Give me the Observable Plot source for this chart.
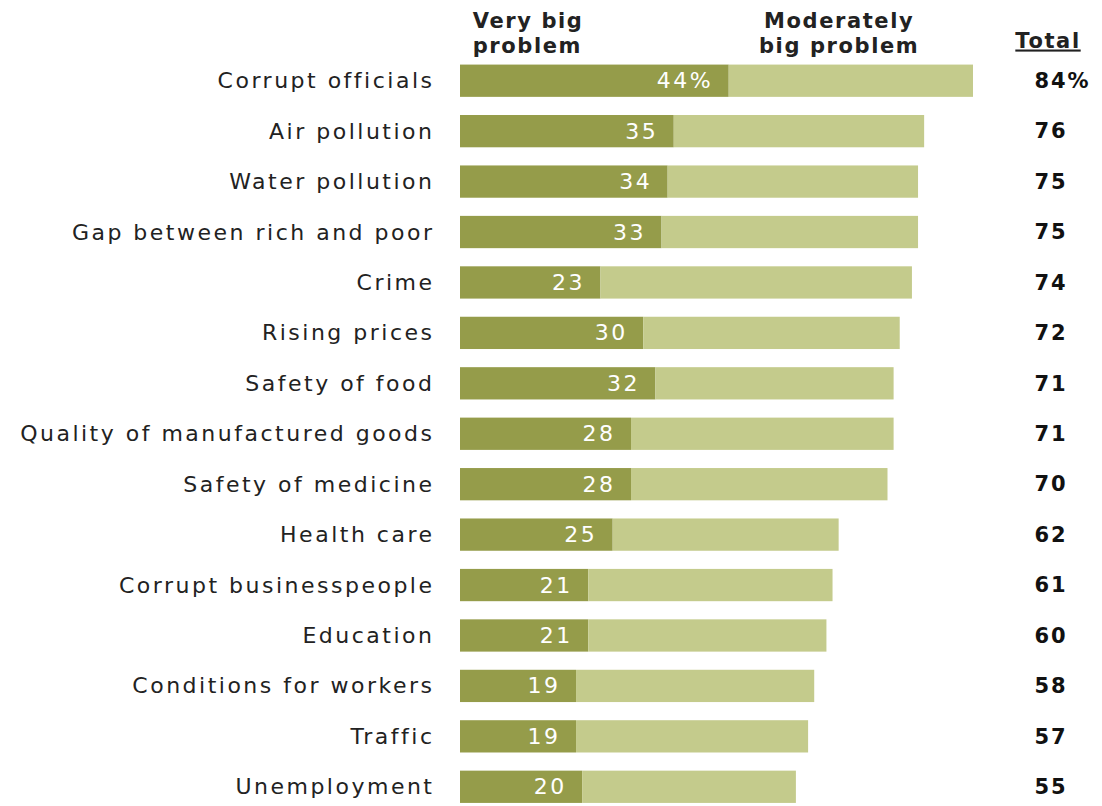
<!DOCTYPE html>
<html>
<head>
<meta charset="utf-8">
<script src="https://cdn.jsdelivr.net/npm/d3@7"></script>
<script src="https://cdn.jsdelivr.net/npm/@observablehq/plot@0.6"></script>
<style>
  html, body { margin: 0; padding: 0; background: #fff; }
  #chart svg { display: block; }
  #chart svg text { letter-spacing: 2.5px; }
  #chart svg .hdr text { letter-spacing: 1.6px; }
  #chart svg .tot text { letter-spacing: 1.8px; }
  #chart svg .total-head text { letter-spacing: 1.6px; text-decoration: underline; }
</style>
</head>
<body>
<div id="chart"></div>
<script>
const categories = [
  "Corrupt officials", "Air pollution", "Water pollution", "Gap between rich and poor",
  "Crime", "Rising prices", "Safety of food", "Quality of manufactured goods",
  "Safety of medicine", "Health care", "Corrupt businesspeople", "Education",
  "Conditions for workers", "Traffic", "Unemployment"
];
const veryBig = [44, 35, 34, 33, 23, 30, 32, 28, 28, 25, 21, 21, 19, 19, 20];
const total   = [84, 76, 75, 75, 74, 72, 71, 71, 70, 62, 61, 60, 58, 57, 55];

const rows = categories.map((c, i) => ({
  category: c,
  veryBig: veryBig[i],
  total: total[i],
  vLabel: i === 0 ? veryBig[i] + "%" : String(veryBig[i]),
  tLabel: i === 0 ? total[i] + "%" : String(total[i])
}));

const dark = "#959c4a";
const light = "#c4cb8c";
const font = "DejaVu Sans, Verdana, sans-serif";

const chart = Plot.plot({
  width: 1102,
  height: 806,
  marginLeft: 460,
  marginRight: 129,
  marginTop: 55,
  marginBottom: 0,
  style: { fontFamily: font, fontSize: "22px", color: "#222", background: "#fff" },
  x: { domain: [0, 84], axis: null },
  y: { domain: categories, range: [55.5, 812], round: false, paddingInner: 0.36, paddingOuter: 0.18, label: null },
  marks: [
    Plot.barX(rows, { y: "category", x1: 0, x2: "veryBig", fill: dark }),
    Plot.barX(rows, { y: "category", x1: "veryBig", x2: "total", fill: light }),
    Plot.text(rows, { y: "category", x: "veryBig", text: "vLabel", textAnchor: "end", dx: -16, fill: "#fff", fontSize: 22 }),
    Plot.text(rows, { y: "category", x: 94, text: "tLabel", textAnchor: "start", fill: "#111", fontWeight: "bold", fontSize: 21, className: "tot" }),
    Plot.axisY({ tickSize: 0, tickPadding: 26, fontSize: 22, label: null, fill: "#222" }),
    Plot.text(["Very big\nproblem"], { x: 2, frameAnchor: "top", textAnchor: "start", lineAnchor: "bottom", dy: -3, lineHeight: 1.15, fontWeight: "bold", fontSize: 21, fill: "#222", className: "hdr" }),
    Plot.text(["Moderately\nbig problem"], { x: 62, frameAnchor: "top", textAnchor: "middle", lineAnchor: "bottom", dy: -3, lineHeight: 1.15, fontWeight: "bold", fontSize: 21, fill: "#222", className: "hdr" }),
    Plot.text(["Total"], { x: 96.2, frameAnchor: "top", textAnchor: "middle", lineAnchor: "bottom", dy: -8, fontWeight: "bold", fontSize: 21, fill: "#222", className: "total-head" })
  ]
});
document.getElementById("chart").appendChild(chart);
</script>
</body>
</html>
